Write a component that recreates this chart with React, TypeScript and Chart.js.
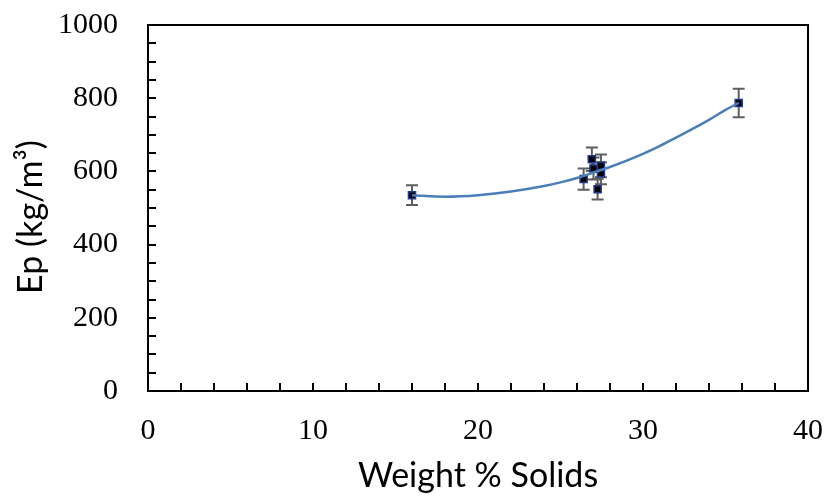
import React, { useEffect, useRef } from "react";
import { Chart, registerables } from "chart.js";

Chart.register(...registerables);

const solids = [16.0, 26.4, 26.9, 27.0, 27.45, 27.45, 27.25, 35.8];
const ep = [535, 579, 633, 608, 615, 595, 551, 787];
const epErr = [27, 29, 32, 30, 31, 30, 28, 39];

const trendX = [16, 18, 20, 22, 24, 25, 26, 27, 28, 30, 31, 32, 33, 34, 35, 35.8];
const trendY = [535, 531, 535, 545, 560, 570, 582, 597, 612, 648, 669, 692, 716, 741, 768, 787];

const xTicks = [0, 10, 20, 30, 40];
const yTicks = [0, 200, 400, 600, 800, 1000];

const yTitle = "Ep (kg/m³)";
const xTitle = "Weight % Solids";

const framePlugin = {
  id: "frame",
  beforeDatasetsDraw(chart: any) {
    const { ctx, scales } = chart;
    const xs = scales.x;
    const ys = scales.y;
    ctx.save();
    ctx.strokeStyle = "#5f5f5f";
    ctx.lineWidth = 2;
    solids.forEach((xv, i) => {
      const px = xs.getPixelForValue(xv);
      const top = ys.getPixelForValue(ep[i] + epErr[i]);
      const bot = ys.getPixelForValue(ep[i] - epErr[i]);
      ctx.beginPath();
      ctx.moveTo(px, top);
      ctx.lineTo(px, bot);
      ctx.moveTo(px - 6, top);
      ctx.lineTo(px + 6, top);
      ctx.moveTo(px - 6, bot);
      ctx.lineTo(px + 6, bot);
      ctx.stroke();
    });
    ctx.restore();
  },
  afterDraw(chart: any) {
    const { ctx, chartArea: a, scales } = chart;
    const xs = scales.x;
    const ys = scales.y;
    ctx.save();
    ctx.strokeStyle = "#000";
    ctx.lineWidth = 2;
    ctx.beginPath();
    for (let v = xTicks[0]; v <= xTicks[xTicks.length - 1]; v += 2) {
      const px = Math.round(xs.getPixelForValue(v));
      ctx.moveTo(px, a.bottom);
      ctx.lineTo(px, a.bottom - 8);
    }
    for (let v = yTicks[0]; v <= yTicks[yTicks.length - 1]; v += 50) {
      const py = Math.round(ys.getPixelForValue(v));
      ctx.moveTo(a.left, py);
      ctx.lineTo(a.left + 8, py);
    }
    ctx.stroke();
    ctx.strokeRect(a.left, a.top, a.right - a.left, a.bottom - a.top);
    // y axis title
    ctx.translate(31, 217);
    ctx.rotate(-Math.PI / 2);
    ctx.fillStyle = "#000";
    ctx.font = "34px Lato, sans-serif";
    ctx.textAlign = "center";
    ctx.textBaseline = "middle";
    ctx.fillText(yTitle, 0, 0);
    ctx.restore();
  },
};

export default function App() {
  const ref = useRef<HTMLCanvasElement | null>(null);
  useEffect(() => {
    if (!ref.current) return;
    const chart = new Chart(ref.current, {
      type: "scatter",
      data: {
        datasets: [
          {
            label: "trend",
            data: trendX.map((x, i) => ({ x, y: trendY[i] })),
            showLine: true,
            borderColor: "#4a7ebb",
            borderWidth: 2.5,
            pointRadius: 0,
            cubicInterpolationMode: "monotone",
            fill: false,
          } as any,
          {
            label: "Ep",
            data: solids.map((x, i) => ({ x, y: ep[i] })),
            pointStyle: "rect",
            pointRadius: 5,
            backgroundColor: "#000000",
            borderColor: "#1f3a8a",
            borderWidth: 1.5,
          },
        ],
      },
      options: {
        responsive: false,
        animation: false,
        layout: { padding: { top: 25, right: 19, left: 0, bottom: 0 } },
        plugins: { legend: { display: false }, tooltip: { enabled: false } },
        scales: {
          x: {
            type: "linear",
            min: 0,
            max: 40,
            afterFit: (s: any) => {
              s.height = 107;
              s.paddingLeft = 0;
              s.paddingRight = 0;
            },
            afterBuildTicks: (s: any) => {
              s.ticks = xTicks.map((v) => ({ value: v }));
            },
            grid: { display: false, drawTicks: false },
            border: { display: false },
            ticks: {
              padding: 22,
              color: "#000",
              callback: (v: any) => String(v),
              font: { family: "'Liberation Serif', serif", size: 30 },
            },
            title: {
              display: true,
              text: xTitle,
              color: "#000",
              padding: { top: 0, bottom: 2 },
              font: { family: "Lato, sans-serif", size: 34 },
            },
          },
          y: {
            type: "linear",
            min: 0,
            max: 1000,
            afterFit: (s: any) => {
              s.width = 148;
              s.paddingTop = 0;
              s.paddingBottom = 0;
            },
            afterBuildTicks: (s: any) => {
              s.ticks = yTicks.map((v) => ({ value: v }));
            },
            grid: { display: false, drawTicks: false },
            border: { display: false },
            ticks: {
              padding: 30,
              color: "#000",
              callback: (v: any) => String(v),
              font: { family: "'Liberation Serif', serif", size: 30 },
            },
            title: { display: false },
          },
        },
      },
      plugins: [framePlugin],
    });
    return () => chart.destroy();
  }, []);
  return (
    <div style={{ position: "absolute", left: 0, top: 0, width: 827, height: 498, background: "#fff" }}>
      <canvas ref={ref} width={827} height={498} style={{ display: "block" }} />
    </div>
  );
}
